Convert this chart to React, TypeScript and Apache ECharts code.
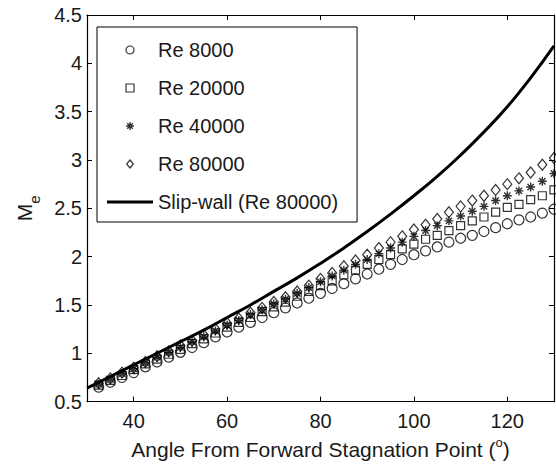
import React, { useEffect, useRef } from "react";
import * as echarts from "echarts";

// Angles (degrees) of the marker data
const angles = [
  32.5, 35, 37.5, 40, 42.5, 45, 47.5, 50, 52.5, 55,
  57.5, 60, 62.5, 65, 67.5, 70, 72.5, 75, 77.5, 80,
  82.5, 85, 87.5, 90, 92.5, 95, 97.5, 100, 102.5, 105,
  107.5, 110, 112.5, 115, 117.5, 120, 122.5, 125, 127.5, 130,
];

const re8000 = [
  0.65, 0.70, 0.75, 0.80, 0.86, 0.91, 0.96, 1.01, 1.06, 1.11,
  1.17, 1.22, 1.27, 1.32, 1.37, 1.42, 1.47, 1.52, 1.57, 1.62,
  1.67, 1.72, 1.77, 1.82, 1.87, 1.92, 1.97, 2.02, 2.06, 2.10,
  2.15, 2.19, 2.22, 2.26, 2.30, 2.34, 2.38, 2.41, 2.45, 2.49,
];

const re20000 = [
  0.67, 0.72, 0.77, 0.83, 0.89, 0.94, 0.99, 1.04, 1.10, 1.15,
  1.21, 1.27, 1.32, 1.37, 1.43, 1.48, 1.53, 1.59, 1.64, 1.70,
  1.75, 1.81, 1.86, 1.92, 1.97, 2.02, 2.08, 2.13, 2.18, 2.22,
  2.27, 2.32, 2.37, 2.41, 2.46, 2.51, 2.54, 2.59, 2.63, 2.69,
];

const re40000 = [
  0.68, 0.73, 0.79, 0.84, 0.90, 0.96, 1.01, 1.06, 1.12, 1.17,
  1.23, 1.29, 1.34, 1.40, 1.45, 1.51, 1.56, 1.62, 1.68, 1.74,
  1.80, 1.86, 1.92, 1.97, 2.03, 2.09, 2.15, 2.21, 2.27, 2.32,
  2.37, 2.42, 2.47, 2.52, 2.58, 2.63, 2.68, 2.72, 2.78, 2.86,
];

const re80000 = [
  0.69, 0.74, 0.80, 0.85, 0.91, 0.97, 1.02, 1.08, 1.13, 1.19,
  1.25, 1.31, 1.36, 1.42, 1.47, 1.53, 1.58, 1.64, 1.70, 1.77,
  1.83, 1.90, 1.96, 2.02, 2.09, 2.15, 2.21, 2.28, 2.33, 2.39,
  2.46, 2.52, 2.58, 2.63, 2.69, 2.75, 2.81, 2.87, 2.95, 3.02,
];

// Slip-wall curve
const slipAngles = [30, 35, 40, 45, 50, 55, 60, 65, 70, 75, 80, 85, 90, 95, 100, 105, 110, 115, 120, 125, 130];
const slipWall = [0.64, 0.76, 0.88, 1.0, 1.12, 1.24, 1.37, 1.5, 1.64, 1.78, 1.93, 2.09, 2.26, 2.44, 2.63, 2.83, 3.05, 3.29, 3.55, 3.85, 4.18];

const xTicks = [40, 60, 80, 100, 120];
const seriesNames = ["Re 8000", "Re 20000", "Re 40000", "Re 80000", "Slip-wall (Re 80000)"];

const FONT = "'Liberation Sans', Arial, Helvetica, sans-serif";
const INK = "#000";
const TEXT = "#1a1a1a";

const circlePath = "path://M10 5A5 5 0 1 1 0 5A5 5 0 1 1 10 5Z";
const squarePath = "path://M0 0L10 0L10 10L0 10Z";
const starPath = "path://M5 0L5 10M0 5L10 5M1.5 1.5L8.5 8.5M1.5 8.5L8.5 1.5";
const diamondPath = "path://M5 0L10 6L5 12L0 6Z";
const linePath = "path://M0 0L46 0L46 3L0 3Z";

const hollow = { color: "rgba(0,0,0,0)", borderColor: INK, borderWidth: 1.2 };
const starStyle = { color: "rgba(0,0,0,0)", borderColor: INK, borderWidth: 1.4 };

export default function App() {
  const ref = useRef<HTMLDivElement>(null);

  useEffect(() => {
    if (!ref.current) return;
    const chart = echarts.init(ref.current, null, { renderer: "svg" });

    const pairs = (ys: number[]) => angles.map((a, i) => [a, ys[i]]);

    const axisCommon = {
      axisLine: { show: true, onZero: false, lineStyle: { color: INK, width: 1.2 } },
      splitLine: { show: false },
    };

    chart.setOption({
      animation: false,
      backgroundColor: "#fff",
      textStyle: { fontFamily: FONT },
      grid: { left: 87, right: 2, top: 15, bottom: 62, containLabel: false },
      legend: {
        orient: "vertical",
        left: 97,
        top: 27,
        selectedMode: false,
        itemWidth: 46,
        itemHeight: 8,
        itemGap: 18,
        padding: [13, 19, 10, 10],
        borderColor: INK,
        borderWidth: 1,
        backgroundColor: "#fff",
        itemStyle: { borderWidth: 1 },
        textStyle: { fontSize: 20, fontFamily: FONT, color: TEXT, lineHeight: 20 },
        data: [
          { name: seriesNames[0], icon: circlePath, itemStyle: hollow },
          { name: seriesNames[1], icon: squarePath, itemStyle: hollow },
          { name: seriesNames[2], icon: starPath, itemStyle: starStyle },
          { name: seriesNames[3], icon: diamondPath, itemStyle: hollow },
          { name: seriesNames[4], icon: linePath, itemStyle: { color: INK, borderWidth: 0 } },
        ],
      },
      xAxis: [
        {
          type: "value",
          min: 30,
          max: 130,
          position: "bottom",
          ...axisCommon,
          axisTick: { show: true, inside: true, length: 5, customValues: xTicks, lineStyle: { color: INK } },
          axisLabel: { show: true, customValues: xTicks, fontSize: 20, margin: 9, color: TEXT, fontFamily: FONT },
          name: "{a|Angle From Forward Stagnation Point (}{b|o}{a|)}",
          nameLocation: "middle",
          nameGap: 31,
          nameTextStyle: {
            rich: {
              a: { fontSize: 21, lineHeight: 28, fontFamily: FONT, color: TEXT, verticalAlign: "middle" },
              b: { fontSize: 13, lineHeight: 16, fontFamily: FONT, color: TEXT, verticalAlign: "top" },
            },
          },
        },
        {
          type: "value",
          min: 30,
          max: 130,
          position: "top",
          ...axisCommon,
          axisTick: { show: true, inside: true, length: 5, customValues: xTicks, lineStyle: { color: INK } },
          axisLabel: { show: false },
        },
      ],
      yAxis: [
        {
          type: "value",
          min: 0.5,
          max: 4.5,
          interval: 0.5,
          position: "left",
          ...axisCommon,
          axisTick: { show: true, inside: true, length: 5, lineStyle: { color: INK } },
          axisLabel: { show: true, fontSize: 20, margin: 5, color: TEXT, fontFamily: FONT },
          name: "{m|M}{s|e}",
          nameLocation: "middle",
          nameGap: 45,
          nameTextStyle: {
            rich: {
              m: { fontSize: 21, lineHeight: 35, fontFamily: FONT, color: TEXT, verticalAlign: "middle" },
              s: { fontSize: 15, lineHeight: 14, fontFamily: FONT, color: TEXT, verticalAlign: "bottom" },
            },
          },
        },
        {
          type: "value",
          min: 0.5,
          max: 4.5,
          interval: 0.5,
          position: "right",
          ...axisCommon,
          axisTick: { show: true, inside: true, length: 5, lineStyle: { color: INK } },
          axisLabel: { show: false },
        },
      ],
      series: [
        {
          type: "line",
          name: seriesNames[4],
          data: slipAngles.map((a, i) => [a, slipWall[i]]),
          symbol: "none",
          smooth: true,
          lineStyle: { color: INK, width: 3 },
          itemStyle: { color: INK },
          z: 2,
        },
        {
          type: "scatter",
          name: seriesNames[0],
          data: pairs(re8000),
          symbol: "circle",
          symbolSize: 10,
          itemStyle: hollow,
          z: 3,
        },
        {
          type: "scatter",
          name: seriesNames[1],
          data: pairs(re20000),
          symbol: "rect",
          symbolSize: 8,
          itemStyle: hollow,
          z: 3,
        },
        {
          type: "scatter",
          name: seriesNames[2],
          data: pairs(re40000),
          symbol: starPath,
          symbolSize: 9,
          itemStyle: starStyle,
          z: 3,
        },
        {
          type: "scatter",
          name: seriesNames[3],
          data: pairs(re80000),
          symbol: "diamond",
          symbolSize: [9, 11],
          itemStyle: hollow,
          z: 3,
        },
      ],
    });

    return () => chart.dispose();
  }, []);

  return (
    <div
      ref={ref}
      style={{ position: "fixed", left: 0, top: 0, width: 556, height: 465, background: "#fff" }}
    />
  );
}
